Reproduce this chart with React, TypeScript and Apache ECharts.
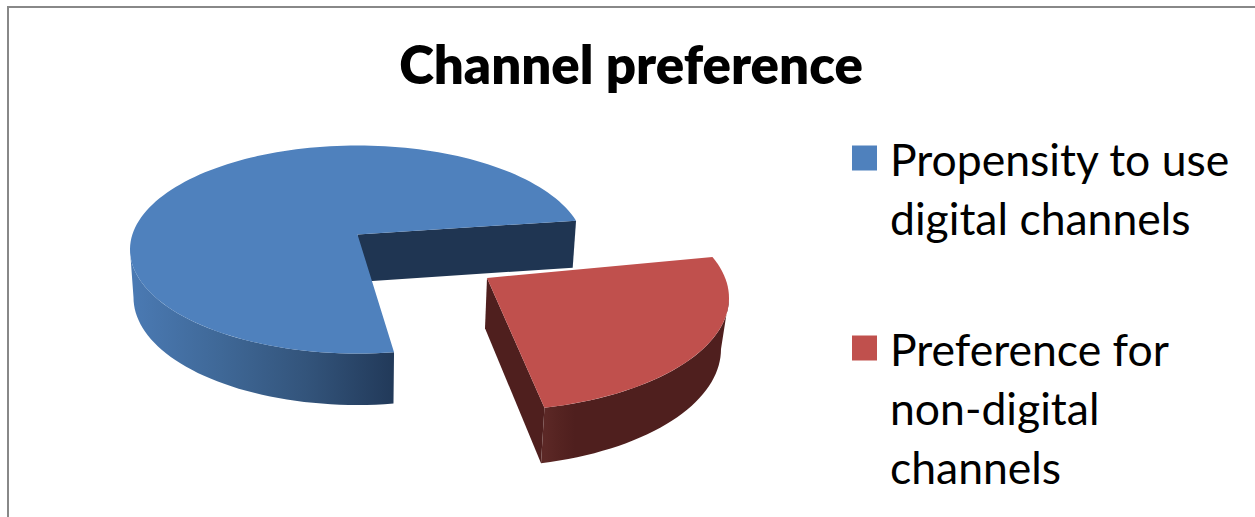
import React, { useEffect, useRef } from "react";
import * as echarts from "echarts";

const title = "Channel preference";
const sliceNames = ["Propensity to use digital channels", "Preference for non-digital channels"];
const sliceValues = [75, 25];
const legendLines = [
  ["Propensity to use", "digital channels"],
  ["Preference for", "non-digital", "channels"],
];

const FONT = "Lato, Carlito, sans-serif";
const START_ANGLE = 80;

// Perspective drawing of each exploded wedge: the upper and lower rims are ellipses,
// and `lean` moves the disc centre towards the back of the ellipse.
const wedges = [
  {
    turn: 2,
    lean: -0.144,
    top: { cx: 357.5, cy: 249.5, rx: 227.5, ry: 104 },
    bottom: { cx: 357.5, cy: 297.5, rx: 224, ry: 107.5 },
    face: "#4F81BD",
    cut: "#1F3552",
    side: { x0: 135, x1: 392, stops: ["#4A79B2", "#3F6897", "#33547B", "#223A5A"] },
  },
  {
    turn: -1.5,
    lean: -0.177,
    top: { cx: 487, cy: 298, rx: 242, ry: 113 },
    bottom: { cx: 485, cy: 349, rx: 236, ry: 117.5 },
    face: "#C0504D",
    cut: "#4F1F1E",
    side: { x0: 545, x1: 590, stops: ["#5C2826", "#552321", "#4F1F1E", "#4F1F1E"] },
  },
];

type Ring = { cx: number; cy: number; rx: number; ry: number };

// Maps a point of the unit disc onto a rim, keeping straight lines straight.
function project(ring: Ring, lean: number, u: number, v: number): number[] {
  const d = 1 + v * lean;
  const up = (u * Math.sqrt(1 - lean * lean)) / d;
  const vp = (v + lean) / d;
  return [ring.cx + up * ring.rx, ring.cy + vp * ring.ry];
}

function rimPoint(ring: Ring, lean: number, deg: number): number[] {
  const a = (deg * Math.PI) / 180;
  return project(ring, lean, Math.cos(a), Math.sin(a));
}

function arc(ring: Ring, lean: number, from: number, to: number): number[][] {
  const count = Math.max(2, Math.ceil(Math.abs(to - from) / 2));
  const pts: number[][] = [];
  for (let i = 0; i <= count; i++) {
    pts.push(rimPoint(ring, lean, from + ((to - from) * i) / count));
  }
  return pts;
}

function renderWedge(index: number) {
  const total = sliceValues.reduce((s, v) => s + v, 0);
  const before = sliceValues.slice(0, index).reduce((s, v) => s + v, 0);
  const w = wedges[index];
  const start = START_ANGLE + (before / total) * 360 + w.turn;
  const end = start + (sliceValues[index] / total) * 360;
  const topApex = project(w.top, w.lean, 0, 0);
  const bottomApex = project(w.bottom, w.lean, 0, 0);

  // The outer wall shows only where the rim runs along the front of the ellipse.
  const tangent = (Math.asin(-w.lean) * 180) / Math.PI;
  let wallFrom = 0;
  let wallTo = 0;
  for (const shift of [0, 360]) {
    const lo = Math.max(start, tangent + shift);
    const hi = Math.min(end, 180 - tangent + shift);
    if (hi > lo) {
      wallFrom = lo;
      wallTo = hi;
    }
  }

  const sideFill = new echarts.graphic.LinearGradient(
    w.side.x0,
    0,
    w.side.x1,
    0,
    w.side.stops.map((color, i) => ({ offset: i / (w.side.stops.length - 1), color })),
    true,
  );

  return {
    type: "group",
    children: [
      {
        type: "polygon",
        shape: {
          points: [topApex, rimPoint(w.top, w.lean, end), rimPoint(w.bottom, w.lean, end), bottomApex],
        },
        style: { fill: w.cut },
      },
      {
        type: "polygon",
        shape: {
          points: [...arc(w.top, w.lean, wallFrom, wallTo), ...arc(w.bottom, w.lean, wallTo, wallFrom)],
        },
        style: { fill: sideFill },
      },
      {
        type: "polygon",
        shape: { points: [topApex, ...arc(w.top, w.lean, start, end)] },
        style: { fill: w.face },
      },
    ],
  };
}

// Each legend entry is rich text, so the colour key sits on the first line only.
function legendText(name: string): string {
  const i = sliceNames.indexOf(name);
  return legendLines[i]
    .map((line, n) => (n === 0 ? `{key${i}|}{gap|}{t|${line}}` : `{indent|}{t|${line}}`))
    .join("\n");
}

export default function App() {
  const ref = useRef<HTMLDivElement>(null);

  useEffect(() => {
    const chart = echarts.init(ref.current!, undefined, { renderer: "svg" });
    chart.setOption({
      animation: false,
      backgroundColor: "#ffffff",
      title: {
        text: title,
        left: 626,
        top: 32,
        textAlign: "center",
        textStyle: { fontFamily: FONT, fontSize: 52.8, fontWeight: 800, color: "#000000" },
      },
      legend: {
        orient: "vertical",
        left: 847,
        top: 128.5,
        height: 700,
        padding: 0,
        itemWidth: 0,
        itemHeight: 0,
        itemGap: 72,
        icon: "rect",
        itemStyle: { opacity: 0 },
        selectedMode: false,
        data: sliceNames,
        formatter: legendText,
        textStyle: {
          fontFamily: FONT,
          fontSize: 44.5,
          color: "#000000",
          lineHeight: 59,
          rich: {
            t: { fontFamily: FONT, fontSize: 44.5, color: "#000000", lineHeight: 59 },
            key0: { width: 25, height: 25, backgroundColor: wedges[0].face },
            key1: { width: 25, height: 25, backgroundColor: wedges[1].face },
            gap: { width: 13 },
            indent: { width: 38 },
          },
        },
      },
      graphic: [
        {
          type: "rect",
          shape: { x: 8, y: 7, width: 1400, height: 700 },
          style: { fill: "none", stroke: "#888888", lineWidth: 2 },
        },
      ],
      series: sliceNames.map((name, i) => ({
        type: "custom",
        name,
        coordinateSystem: "none",
        silent: true,
        data: [sliceValues[i]],
        renderItem: () => renderWedge(i),
      })),
    });
    return () => chart.dispose();
  }, []);

  return <div ref={ref} style={{ position: "absolute", left: 0, top: 0, width: 1255, height: 517 }} />;
}
